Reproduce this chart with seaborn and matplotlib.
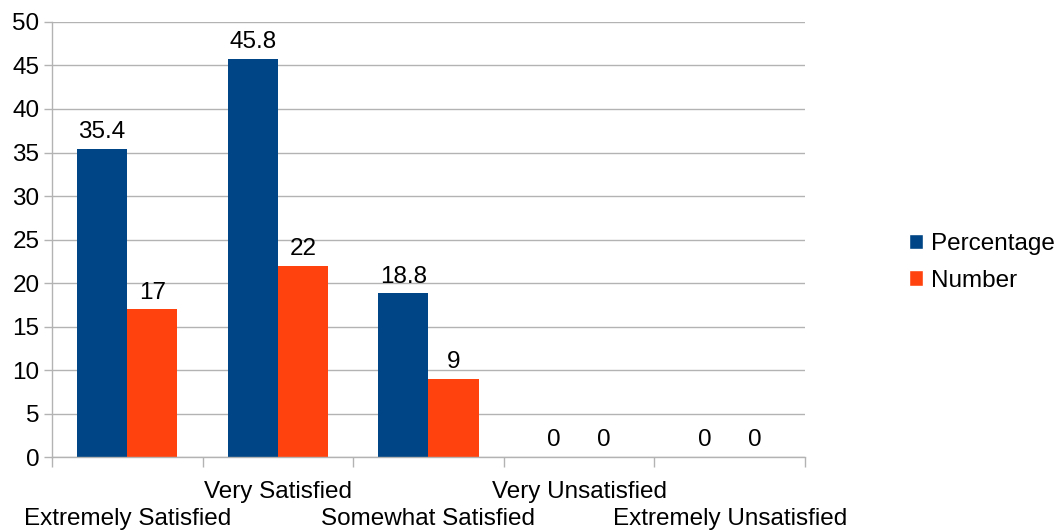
import matplotlib
matplotlib.use("Agg")
import matplotlib.pyplot as plt
import numpy as np
import pandas as pd
import seaborn as sns
from matplotlib.patches import Patch

categories = ["Extremely Satisfied", "Very Satisfied", "Somewhat Satisfied",
              "Very Unsatisfied", "Extremely Unsatisfied"]
percentage = [35.4, 45.8, 18.8, 0, 0]
number = [17, 22, 9, 0, 0]
series = ["Percentage", "Number"]
colors = ["#004586", "#ff420e"]
yticks = list(range(0, 55, 5))

df = pd.DataFrame({
    "category": categories * 2,
    "value": percentage + number,
    "series": [series[0]] * len(categories) + [series[1]] * len(categories),
})

sns.set_theme(style="white")
plt.rcParams["font.family"] = ["Liberation Sans", "DejaVu Sans"]
plt.rcParams["text.color"] = "black"
plt.rcParams["xtick.color"] = "black"
plt.rcParams["ytick.color"] = "black"
grid_col = "#b3b3b3"
fs = 17.5

fig = plt.figure(figsize=(10.56, 5.3), dpi=100)
ax = fig.add_axes([0.0492, 0.1377, 0.7131, 0.8208])

sns.barplot(data=df, x="category", y="value", hue="series", palette=colors,
            width=0.667, ax=ax, legend=False, saturation=1, linewidth=0)

for cont in ax.containers:
    labels = [f"{v:g}" for v in cont.datavalues]
    ax.bar_label(cont, labels=labels, padding=4, fontsize=fs, color="black")

ax.set_xlim(-0.5, len(categories) - 0.5)
ax.set_ylim(0, 50)
ax.set_yticks(yticks)
ax.yaxis.grid(True, color=grid_col, linewidth=1)
ax.set_axisbelow(True)
ax.tick_params(axis="y", length=6, color=grid_col, width=1, labelsize=fs, pad=3,
               left=True, labelcolor="black")

# category boundary ticks below the axis
ax.set_xticks(np.arange(-0.5, len(categories)), minor=True)
ax.tick_params(axis="x", which="minor", length=7, color=grid_col, width=1,
               bottom=True)
ax.set_xticks(range(len(categories)))
ax.set_xticklabels(categories)
ax.tick_params(axis="x", which="major", length=0, labelsize=fs, labelcolor="black")
for i, tick in enumerate(ax.xaxis.get_major_ticks()):
    tick.set_pad(17 if i % 2 else 37)

ax.set_xlabel("")
ax.set_ylabel("")
for side in ["top", "right"]:
    ax.spines[side].set_visible(False)
for side in ["left", "bottom"]:
    ax.spines[side].set_color(grid_col)
    ax.spines[side].set_linewidth(1)

handles = [Patch(facecolor=c, label=s) for c, s in zip(colors, series)]
fig.legend(handles=handles, loc="center left", bbox_to_anchor=(0.856, 0.505),
           frameon=False, fontsize=fs, handlelength=0.6, handleheight=0.6,
           handletextpad=0.3, labelspacing=0.6, borderaxespad=0, borderpad=0.2)

fig.savefig("out.png", dpi=100)
